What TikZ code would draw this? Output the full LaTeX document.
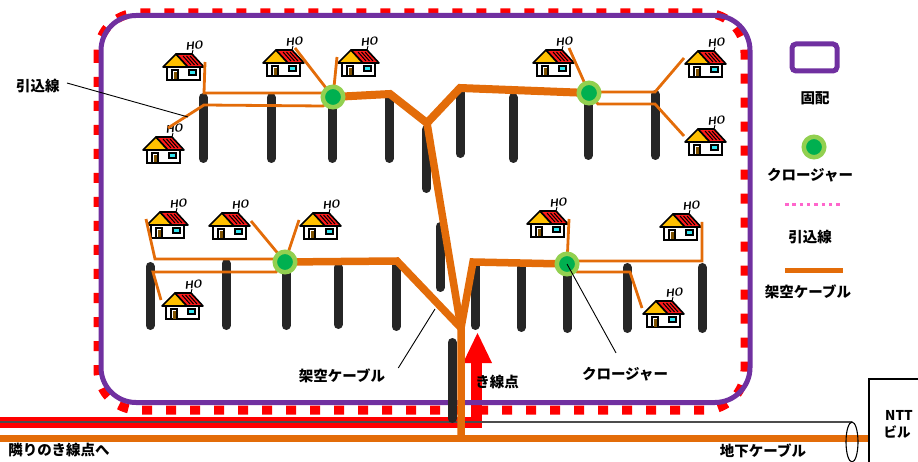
\documentclass[tikz,border=0pt]{standalone}
\usepackage{fontspec}
\newfontfamily\jp{Noto Sans CJK JP}
\definecolor{cablecol}{HTML}{E36C09}
\definecolor{framecol}{HTML}{7030A0}
\definecolor{closeout}{HTML}{92D050}
\definecolor{closein}{HTML}{00B050}
\definecolor{polecol}{HTML}{262626}
\definecolor{pinkcol}{HTML}{FF66CC}
\definecolor{gablecol}{HTML}{FFC000}
\definecolor{roofcol}{HTML}{FF1A1A}
\definecolor{doorcol}{HTML}{7F5200}
\definecolor{glasscol}{HTML}{33E6F2}
\tikzset{
  polebar/.style={draw=polecol, line width=9, line cap=round},
  maincable/.style={draw=cablecol, line width=7.5},
  dropline/.style={draw=cablecol, line width=2.8},
  closenode/.style={circle, fill=closein, draw=closeout, line width=4.5, minimum size=20.5, inner sep=0},
  leadline/.style={draw=black, line width=0.9},
  lbl/.style={font=\jp\bfseries\fontsize{14.5}{16}\selectfont, inner sep=0},
  hotext/.style={font=\sffamily\bfseries\itshape\fontsize{11}{11}\selectfont, inner sep=0, rotate=7},
  house/.pic={
    % white body with a heavy base line
    \filldraw[fill=white, draw=black, line width=1.6] (4,13) rectangle (37,27);
    \draw[black, line width=2.4] (4,27) -- (37,27);
    % yellow gable and red roof
    \filldraw[fill=gablecol, draw=black, line width=1.6, line join=round] (0,14) -- (13,1) -- (25,14) -- cycle;
    \filldraw[fill=roofcol, draw=black, line width=1.6, line join=round] (13,1) -- (29,1) -- (41,14) -- (25,14) -- cycle;
    \draw[black, line width=1] (20,3) -- (28,12) (23.5,3) -- (31.5,12) (27,3) -- (35,12);
    % door and window
    \filldraw[fill=white, draw=black, line width=1.2] (9,17) rectangle (15,27);
    \fill[doorcol] (10.5,19) rectangle (13.5,26.5);
    \filldraw[fill=glasscol, draw=black, line width=1.2] (26,17) rectangle (33,22);
    % antenna
    \draw[black, line width=0.9] (30,-3) -- (29,1);
    \node[hotext] (-ho) at (31,-7.5) {HO};
    % attachment points for the drop wires
    \coordinate (-l) at (-1,8);
    \coordinate (-r) at (42,9);
    \coordinate (-a) at (32,-1);
    \coordinate (-t) at (25,-8);
  }
}
\begin{document}
\begin{tikzpicture}[x=1pt,y=-1pt]
\useasboundingbox (0,0) rectangle (918,462);

% service area outline
\draw[red, line width=9, dash pattern=on 10 off 14, rounded corners=40] (98,13) rectangle (745,410);

% feeder route from the neighbouring point, ending in the arrow
\draw[red, line width=11] (0,422) -- (476,422) -- (476,361);
\fill[red] (463,363) -- (492,363) -- (477.5,333) -- cycle;

\draw[framecol, line width=5, rounded corners=35] (101,15.5) rectangle (750,402.5);

% underground conduit and cable to the exchange building
\coordinate (tube) at (852,422);
\draw[black!70, line width=1.2] (0,422) -- (tube);
\draw[cablecol, line width=7] (0,438) -- (869,438);
\draw[black, line width=1.1] (852,442) ellipse [x radius=6, y radius=20];
\draw[black, line width=1.3] (869,475) -- (869,379) -- (925,379);
\node[lbl, font=\jp\bfseries\fontsize{13.5}{15}\selectfont] (ntt) at (899,415) {NTT};
\node[lbl, font=\jp\bfseries\fontsize{13.5}{15}\selectfont] (bldg) at (897,432) {ビル};

% utility poles
\foreach \px/\ptop/\pbot in {203/93/163, 271/93/163, 332/97/163, 389/93/163, 426/125/193,
    460/88/158, 513/93/163, 588/93/160, 655/90/160, 440/222/292,
    150/262/330, 226/259/330, 286/262/330, 338/263/329, 396/260/331,
    475/260/330, 521/263/332, 567/264/333, 627/263/333, 702/263/333, 452/338/423}
  \draw[polebar] (\px,\ptop+4.5) -- (\px,\pbot-4.5);

% closure positions
\coordinate (c1) at (333,97);
\coordinate (c2) at (589,93);
\coordinate (c3) at (285,262);
\coordinate (c4) at (567,264);
\coordinate (fork1) at (427,123);
\coordinate (fork2) at (461,328);

% aerial cable
\draw[maincable] (fork1) -- (fork2) -- (461,440);
\draw[maincable, line width=8] (c1) -- (390,94) -- (fork1) -- (460,88) -- (c2);
\draw[maincable] (c3) -- (397,261) -- (fork2) -- (473,262) -- (c4);

% houses
\pic (h1) at (163,53) {house};
\pic (h2) at (263,49) {house};
\pic (h3) at (338,49) {house};
\pic (h4) at (143,136) {house};
\pic (h5) at (533,49) {house};
\pic (h6) at (685,50) {house};
\pic (h7) at (685,128) {house};
\pic (h8) at (147,211) {house};
\pic (h9) at (209,212) {house};
\pic (h10) at (300,212) {house};
\pic (h11) at (162,292) {house};
\pic (h12) at (527,210) {house};
\pic (h13) at (660,213) {house};
\pic (h14) at (643,300) {house};
\coordinate (h5drop) at (569,48);

% drop wires
\draw[dropline] (h1-r) -- (204,93) -- (322,93) -- (c1);
\draw[dropline] (h4-t) -- (204,105) -- (323,106) -- (c1);
\draw[dropline] (h2-a) -- (c1);
\draw[dropline] (h3-l) -- (c1);
\draw[dropline] (c2) -- (600,92) -- (655,92) -- (h6-l);
\draw[dropline] (c2) -- (598,104) -- (655,104) -- (h7-l);
\draw[dropline] (h5drop) -- (c2);
\draw[dropline] (h8-l) -- (155,259) -- (273,259) -- (c3);
\draw[dropline] (h11-l) -- (153,272) -- (276,272) -- (c3);
\draw[dropline] (h9-r) -- (c3);
\draw[dropline] (h10-l) -- (c3);
\draw[dropline] (h12-r) -- (c4);
\draw[dropline] (c4) -- (579,261) -- (702,261) -- (h13-r);
\draw[dropline] (c4) -- (577,272) -- (630,272) -- (h14-l);

% closures
\node[closenode] (k1) at (c1) {};
\node[closenode] (k2) at (c2) {};
\node[closenode] (k3) at (c3) {};
\node[closenode] (k4) at (c4) {};

% labels with leader lines
\node[lbl] (tdrop) at (38,86) {引込線};
\coordinate (pdrop) at (188,117);
\draw[leadline] ([xshift=7pt,yshift=3pt]tdrop.east) -- (pdrop);

\node[lbl] (taerial) at (342,376) {架空ケーブル};
\coordinate (paerial) at (435,309);
\draw[leadline] ([xshift=13pt,yshift=8pt]taerial.east) -- (paerial);

\node[lbl] (tclose) at (625,374) {クロージャー};
\draw[leadline] (c4) -- ([xshift=-9pt,yshift=14pt]tclose.north);

\node[lbl] (tfeed) at (497,382) {き線点};
\node[lbl] (tnext) at (59,450) {隣りのき線点へ};
\node[lbl] (tunder) at (763,451) {地下ケーブル};

% legend
\draw[framecol, line width=5, rounded corners=4] (792,44) rectangle (837,71);
\node[lbl] (lg1) at (815,98) {固配};
\node[closenode] (lgc) at (814,147) {};
\node[lbl] (lg2) at (810,175) {クロージャー};
\draw[pinkcol, line width=3, dash pattern=on 3.5 off 3.8] (785,205) -- (843,205);
\node[lbl] (lg3) at (810,237) {引込線};
\draw[cablecol, line width=5] (785,271) -- (843,271);
\node[lbl] (lg4) at (808,292) {架空ケーブル};
\end{tikzpicture}
\end{document}
